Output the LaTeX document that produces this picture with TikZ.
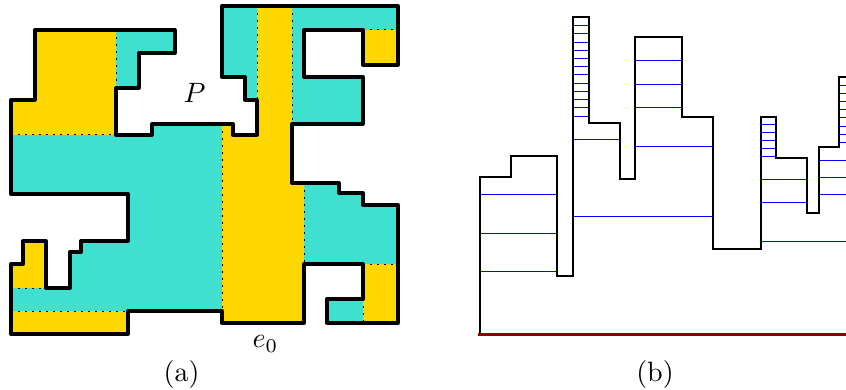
\documentclass[tikz,border=0pt]{standalone}
\usepackage{amsmath}
\usepackage{xcolor}
\usetikzlibrary{positioning}
\definecolor{polyCyan}{RGB}{64,224,208}
\definecolor{polyGold}{RGB}{255,215,0}
\definecolor{baseRed}{RGB}{139,0,0}

\begin{document}
\begin{tikzpicture}[x=1pt,y=-1pt,
	polyedge/.style={draw=black,line width=3.3pt,line join=round,line cap=round},
	cutline/.style={draw=black,line width=1pt,dash pattern=on 1.8pt off 5.2pt},
	goldpart/.style={fill=polyGold,draw=none},
	histedge/.style={draw=black,line width=2.2pt,line join=miter},
	trapline/.style={draw=blue,line width=0.95pt},
	baseedge/.style={draw=baseRed,line width=3pt},
	caplabel/.style={inner sep=0pt,scale=2.8}
	]
	\useasboundingbox (0,0) rectangle (846,390);

	% polygon P: turquoise base, gold parts over it
	\fill[polyCyan] (35,30) -| (175,53) -| (139,88) -| (116,135) -| (152,124) -| (233,135) -| (257,100) -| (245,77) -| (222,6) -| (398,65) -| (363,30) -| (304,77) -| (363,124) -| (292,183) -| (339,193) -| (363,205) -| (398,323) -| (327,299) -| (363,264) -| (304,323) -| (222,311) -| (128,334) -| (11,264) -| (23,241) -| (46,288) -| (70,252) -| (81,241) -| (128,194) -| (11,100) -| cycle;
	\fill[goldpart] (35,30) -- (116,30) -- (116,135) -- (11,135) -- (11,100) -- (35,100) -- cycle;
	\fill[goldpart] (257,6) -- (292,6) -- (292,183) -- (304,183) -- (304,323) -- (222,323) -- (222,124) -- (233,124) -- (233,135) -- (257,135) -- cycle;
	\fill[goldpart] (363,30) rectangle (398,65);
	\fill[goldpart] (363,264) rectangle (398,323);
	\fill[goldpart] (11,264) -- (23,264) -- (23,241) -- (46,241) -- (46,288) -- (11,288) -- cycle;
	\fill[goldpart] (11,311) rectangle (128,334);

	% cuts
	\draw[cutline] (116,30) -- (116,88);
	\draw[cutline] (11,135) -- (116,135);
	\draw[cutline] (257,6) -- (257,100);
	\draw[cutline] (292,6) -- (292,124);
	\draw[cutline] (222,124) -- (222,311);
	\draw[cutline] (304,183) -- (304,264);
	\draw[cutline] (363,30) -- (398,30);
	\draw[cutline] (363,264) -- (398,264);
	\draw[cutline] (363,299) -- (363,323);
	\draw[cutline] (11,288) -- (46,288);
	\draw[cutline] (11,311) -- (128,311);

	\draw[polyedge] (35,30) -| (175,53) -| (139,88) -| (116,135) -| (152,124) -| (233,135) -| (257,100) -| (245,77) -| (222,6) -| (398,65) -| (363,30) -| (304,77) -| (363,124) -| (292,183) -| (339,193) -| (363,205) -| (398,323) -| (327,299) -| (363,264) -| (304,323) -| (222,311) -| (128,334) -| (11,264) -| (23,241) -| (46,288) -| (70,252) -| (81,241) -| (128,194) -| (11,100) -| cycle;

	\node[caplabel] (labelP) at (194.5,93) {$P$};
	\node[caplabel] (labelE) at (265.5,344) {$e_0$};
	\node[caplabel] (labelA) at (181.5,374) {(a)};
	\node[caplabel] (labelB) at (655,374) {(b)};

	% histogram: trapezoid lines first
	\foreach \yy in {194.5,233,271.5}
		\draw[trapline] (480,\yy) -- (557,\yy);
	\foreach \yy in {25,33.7,42,50.3,58.3,66.7,74.7,83,91,99.7,107.7,116}
		\draw[trapline] (573,\yy) -- (589,\yy);
	\draw[trapline] (573,139.5) -- (620,139.5);
	\draw[trapline] (573,216.5) -- (713,216.5);
	\foreach \yy in {60.5,84,107.5}
		\draw[trapline] (635,\yy) -- (682,\yy);
	\draw[trapline] (635,146.5) -- (713,146.5);
	\foreach \yy in {124.3,132,140,148,156}
		\draw[trapline] (761,\yy) -- (776,\yy);
	\foreach \yy in {179,202.5}
		\draw[trapline] (761,\yy) -- (807,\yy);
	\draw[trapline] (761,241.5) -- (846,241.5);
	\foreach \yy in {160,177.5,194.5}
		\draw[trapline] (819,\yy) -- (846,\yy);
	\foreach \yy in {85,93.3,101.3,109.7,117.7,126.3,134.3,142.7}
		\draw[trapline] (839,\yy) -- (846,\yy);

	\draw[histedge] (480,334) |- (511,177) |- (557,156) |- (573,276) |- (589,17) |- (620,123) |- (635,179) |- (682,37) |- (713,117) |- (761,249) |- (776,117) |- (807,158) |- (819,213) |- (839,147) |- (850,77);
	\draw[baseedge] (478,334.5) -- (850,334.5);
\end{tikzpicture}
\end{document}
